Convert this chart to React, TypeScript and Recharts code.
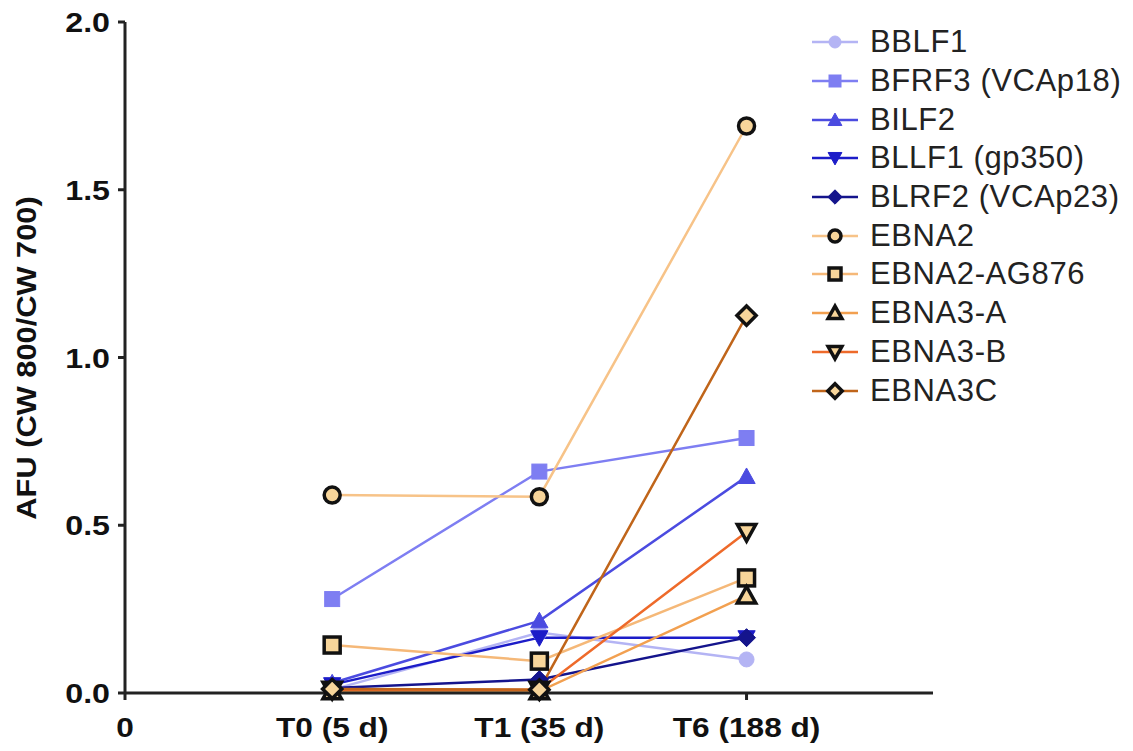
import React from "react";
import { LineChart, Line, XAxis, YAxis } from "recharts";

const timepoints = [1, 2, 3];
const xTickValues = [0, 1, 2, 3];
const xTickLabels = ["0", "T0 (5 d)", "T1 (35 d)", "T6 (188 d)"];
const yTickValues = [0, 0.5, 1, 1.5, 2];
const yAxisTitle = "AFU (CW 800/CW 700)";

const BBLF1 = [0.01, 0.18, 0.1];
const BFRF3 = [0.28, 0.66, 0.76];
const BILF2 = [0.03, 0.215, 0.645];
const BLLF1 = [0.025, 0.165, 0.165];
const BLRF2 = [0.015, 0.04, 0.165];
const EBNA2 = [0.59, 0.585, 1.69];
const EBNA2_AG876 = [0.143, 0.095, 0.343];
const EBNA3A = [0.005, 0.005, 0.29];
const EBNA3B = [0.01, 0.01, 0.48];
const EBNA3C = [0.012, 0.01, 1.125];

type S = { key: string; name: string; values: number[]; color: string; shape: string; ebna: boolean };
const series: S[] = [
  { key: "BBLF1", name: "BBLF1", values: BBLF1, color: "#b4b4f4", shape: "circle", ebna: false },
  { key: "BFRF3", name: "BFRF3 (VCAp18)", values: BFRF3, color: "#7e7ef2", shape: "square", ebna: false },
  { key: "BILF2", name: "BILF2", values: BILF2, color: "#4b4be0", shape: "triangle", ebna: false },
  { key: "BLLF1", name: "BLLF1 (gp350)", values: BLLF1, color: "#1c1cc8", shape: "triangleDown", ebna: false },
  { key: "BLRF2", name: "BLRF2 (VCAp23)", values: BLRF2, color: "#14148c", shape: "diamond", ebna: false },
  { key: "EBNA2", name: "EBNA2", values: EBNA2, color: "#f7c388", shape: "circle", ebna: true },
  { key: "EBNA2_AG876", name: "EBNA2-AG876", values: EBNA2_AG876, color: "#f5b878", shape: "square", ebna: true },
  { key: "EBNA3A", name: "EBNA3-A", values: EBNA3A, color: "#f2a050", shape: "triangle", ebna: true },
  { key: "EBNA3B", name: "EBNA3-B", values: EBNA3B, color: "#ee6a2a", shape: "triangleDown", ebna: true },
  { key: "EBNA3C", name: "EBNA3C", values: EBNA3C, color: "#c0651a", shape: "diamond", ebna: true },
];

const data = timepoints.map((t, i) => {
  const row: Record<string, number> = { x: t };
  series.forEach((s) => (row[s.key] = s.values[i]));
  return row;
});

function Marker({ cx, cy, shape, ebna, color, r }: { cx: number; cy: number; shape: string; ebna: boolean; color: string; r: number }) {
  const fill = ebna ? "#f7d59a" : color;
  const stroke = ebna ? "#111" : color;
  const sw = ebna ? 3.5 : 1;
  if (shape === "circle") return <circle cx={cx} cy={cy} r={r} fill={fill} stroke={stroke} strokeWidth={sw} />;
  if (shape === "square") return <rect x={cx - r} y={cy - r} width={r * 2} height={r * 2} fill={fill} stroke={stroke} strokeWidth={sw} />;
  if (shape === "triangle") {
    const h = r * 1.15;
    return <polygon points={`${cx},${cy - h} ${cx + h},${cy + h * 0.8} ${cx - h},${cy + h * 0.8}`} fill={fill} stroke={stroke} strokeWidth={sw} />;
  }
  if (shape === "triangleDown") {
    const h = r * 1.15;
    return <polygon points={`${cx},${cy + h} ${cx + h},${cy - h * 0.8} ${cx - h},${cy - h * 0.8}`} fill={fill} stroke={stroke} strokeWidth={sw} />;
  }
  const d = r * 1.2;
  return <polygon points={`${cx},${cy - d} ${cx + d},${cy} ${cx},${cy + d} ${cx - d},${cy}`} fill={fill} stroke={stroke} strokeWidth={sw} />;
}

const font = "'Liberation Sans', Arial, sans-serif";

function XTick(props: any) {
  const { x, y, payload } = props;
  const idx = xTickValues.indexOf(payload.value);
  return (
    <g transform={`translate(${x},${y})`}>
      <text transform="scale(1.13,1)" x={0} y={35} textAnchor="middle" fontSize={28} fontWeight="bold" fill="#111" fontFamily={font}>
        {xTickLabels[idx] ?? ""}
      </text>
    </g>
  );
}

function YTick(props: any) {
  const { x, y, payload } = props;
  return (
    <g transform={`translate(${x - 6},${y})`}>
      <text transform="scale(1.15,1)" x={0} y={10} textAnchor="end" fontSize={28} fontWeight="bold" fill="#111" fontFamily={font}>
        {Number(payload.value).toFixed(1)}
      </text>
    </g>
  );
}

export default function App() {
  return (
    <div style={{ position: "absolute", left: 0, top: 0, width: 1133, height: 751, background: "#fff", fontFamily: font }}>
      <LineChart width={1133} height={751} data={data} margin={{ top: 22, right: 200, bottom: 8, left: 50 }}>
        <XAxis
          dataKey="x"
          type="number"
          domain={[0, 3.9]}
          ticks={xTickValues}
          height={50}
          stroke="#222"
          strokeWidth={3}
          tickSize={7}
          tick={<XTick />}
        />
        <YAxis
          type="number"
          domain={[0, 2]}
          ticks={yTickValues}
          width={75}
          stroke="#222"
          strokeWidth={3}
          tickSize={7}
          tick={<YTick />}
        />
        {series.map((s) => (
          <Line
            key={s.key}
            dataKey={s.key}
            name={s.name}
            stroke={s.color}
            strokeWidth={2.5}
            isAnimationActive={false}
            dot={(p: any) => <Marker key={`${s.key}-${p.index}`} cx={p.cx} cy={p.cy} shape={s.shape} ebna={s.ebna} color={s.color} r={s.ebna ? 8 : 7.5} />}
            activeDot={false}
          />
        ))}
      </LineChart>
      <svg style={{ position: "absolute", left: 0, top: 0 }} width={60} height={751}>
        <text
          transform="translate(36,358) rotate(-90) scale(1.1,1)"
          textAnchor="middle"
          fontSize={28}
          fontWeight="bold"
          fill="#111"
          fontFamily={font}
        >
          {yAxisTitle}
        </text>
      </svg>
      <div style={{ position: "absolute", left: 810, top: 23 }}>
        {series.map((s) => (
          <div key={s.key} style={{ display: "flex", alignItems: "center", height: 38.7 }}>
            <svg width={50} height={30} style={{ marginRight: 10 }}>
              <line x1={2} y1={15} x2={48} y2={15} stroke={s.color} strokeWidth={2.5} />
              <Marker cx={25} cy={15} shape={s.shape} ebna={s.ebna} color={s.color} r={6} />
            </svg>
            <span style={{ fontSize: 31, letterSpacing: 0.6, color: "#222", fontFamily: font, whiteSpace: "nowrap" }}>{s.name}</span>
          </div>
        ))}
      </div>
    </div>
  );
}
